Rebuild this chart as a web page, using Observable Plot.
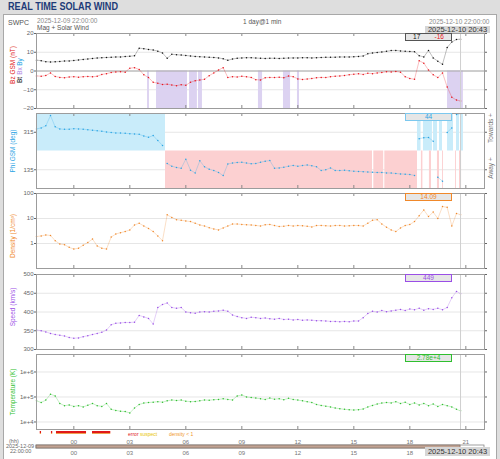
<!DOCTYPE html>
<html><head><meta charset="utf-8">
<script src="https://cdn.jsdelivr.net/npm/d3@7"></script>
<script src="https://cdn.jsdelivr.net/npm/@observablehq/plot@0.6"></script>
<style>
html,body{margin:0;padding:0;width:500px;height:459px;overflow:hidden;background:#dedede;font-family:"Liberation Sans",Arial,sans-serif;}
#root{position:relative;width:500px;height:459px;}
.abs{position:absolute;white-space:nowrap;line-height:1;}
#frame{position:absolute;left:3px;top:14px;width:492px;height:444px;border:1px solid #a8a8a8;background:#fff;}
#title{left:8px;top:1px;font-size:11.5px;font-weight:bold;color:#1d3b78;transform-origin:0 0;}
.small{font-size:6.5px;color:#6a6a6a;}
.vbox{position:absolute;left:405px;width:45px;height:6px;background:#e6e6e6;font-size:6.5px;line-height:6px;text-align:center;}
.gbox{position:absolute;left:425px;width:65px;background:#d6d6d6;color:#333;font-size:7.5px;text-align:center;}
</style>
</head><body>
<div id="root">
  <div id="frame"></div>
  <div id="title" class="abs">REAL TIME SOLAR WIND</div>
  <div class="abs small" style="left:8px;top:19px;font-size:7px;color:#555">SWPC</div>
  <div class="abs small" style="left:37px;top:18px;color:#8a8a8a">2025-12-09 22:00:00</div>
  <div class="abs small" style="left:37px;top:25px;color:#555">Mag + Solar Wind</div>
  <div class="abs small" style="left:243px;top:19px;color:#555">1 day@1 min</div>
  <div class="abs small" style="left:429px;top:19px;color:#8a8a8a">2025-12-10 22:00:00</div>
  <div class="gbox" style="top:26px;height:7px;line-height:7px">2025-12-10 20:43</div>
</div>
<script>
// ---- data (sampled every 15 min from 2025-12-09 22:00 UTC, last value at 20:43) ----
const bt = [5.8,5.5,5.0,4.8,4.9,5.1,5.3,5.4,5.6,5.9, 6.2,6.4,6.7,6.9,7.1,7.2,7.3,7.5,7.5,7.7,
  7.9,8.1,12.2,11.9,11.5,11.2,10.6,9.6,6.8,8.9, 8.7,8.5,8.3,8.0,7.8,7.6,7.5,7.3,7.2,7.0,
  6.5,5.7,6.4,6.8,7.0,7.1,7.1,6.9,6.8,6.7, 6.8,6.8,6.7,6.8,6.9,7.0,7.0,7.1,7.1,7.0,
  7.1,7.2,7.3,7.3,7.4,7.5,7.5,7.5,7.6,7.8, 8.0,9.2,9.6,9.9,10.2,10.5,10.9,11.0,10.7,10.5,
  10.4,10.3,8.2,7.5,11.0,7.0,5.2,3.6,12.5,15.5, 16.8,17];
const bz = [-2.6,-2.8,-2.4,-1.0,-2.9,-3.4,-3.6,-3.2,-3.0,-3.3, -3.0,-2.9,-3.1,-2.8,-1.8,-1.4,-0.8,-0.5,-0.4,-0.6,
  1.5,1.8,0.8,-2.0,-3.5,-6.0,-6.5,-7.2,-7.0,-7.5, -7.8,-7.3,-7.6,-6.0,-5.2,-4.8,-4.4,-2.5,-1.0,0.5,
  1.8,-3.5,-3.0,-3.2,-2.8,-3.1,-3.4,-4.6,-4.8,-3.6, -3.4,-3.5,-3.3,-3.6,-2.7,-3.0,-4.2,-4.5,-4.3,-4.0,
  -3.6,-3.4,-3.5,-3.0,-2.8,-2.6,-2.4,-2.0,-1.7,-1.5, -1.8,-1.2,-1.4,-1.0,-0.8,-0.4,-0.5,-0.3,-0.6,-3.0,
  -4.0,-4.4,5.5,4.2,0.5,-2.0,-3.5,-1.0,-8.5,-14.0, -15.5,-16];
const phi = [331,336,346,35,341,331,329,330,332,331, 330,327,325,322,320,316,314,312,311,310,
  308,307,305,297,291,299,275,252,165,152, 146,142,186,133,120,178,149,138,131,122,
  107,163,167,170,171,167,164,165,171,176, 179,142,144,147,152,156,152,155,158,154,
  149,132,135,144,132,131,133,130,128,127, 126,124,123,122,122,120,119,117,115,114,
  112,108,284,289,290,272,99,80,314,336, 40,44];
const density = [1.9,2.0,2.2,2.1,1.3,0.95,0.9,0.7,0.6,0.65, 0.85,1.1,1.5,0.8,0.65,0.6,1.8,2.4,2.7,3.0,
  3.5,5.5,6.5,5.0,4.0,3.0,2.0,1.3,14,11, 9,8.5,8.0,7.5,6.5,5.5,5.0,4.3,3.8,3.5,
  4.2,5.0,6.0,6.0,5.8,5.6,5.5,5.3,5.0,5.6, 5.8,5.2,4.8,4.9,5.3,5.0,5.2,5.1,4.9,4.6,
  5.2,5.3,5.1,5.0,5.2,5.3,5.0,5.1,5.3,5.2, 5.0,6.5,8.5,9.0,6.0,4.5,3.5,3.0,4.2,5.2,
  5.8,7.5,13,22,12,18,10,30,28,5.0, 16,14.09];
const speed = [352,350,347,343,340,338,336,332,330,331, 334,337,340,343,346,352,366,370,371,372,
  372,373,391,387,383,368,412,420,424,412, 410,412,400,398,397,400,401,400,402,403,
  405,402,392,388,385,383,386,385,383,384, 382,381,383,380,381,379,380,378,379,378,
  377,377,376,375,375,374,375,374,376,376, 385,396,402,400,404,401,403,405,407,404,
  408,406,410,405,409,407,410,406,412,438, 455,449];
const temperature = [70000,60000,75000,130000,110000,55000,45000,48000,42000,45000,
  40000,47000,55000,45000,42000,55000,32000,29000,27000,26000,
  23000,36000,50000,57000,60000,62000,65000,62000,70000,76000,
  72000,75000,68000,65000,66000,70000,76000,74000,78000,80000,
  85000,80000,76000,110000,120000,100000,95000,90000,85000,80000,
  90000,82000,85000,78000,88000,80000,75000,70000,65000,60000,
  50000,46000,43000,40000,36000,34000,32000,31000,30000,31000,
  33000,40000,46000,52000,57000,60000,58000,65000,55000,62000,
  50000,58000,48000,55000,45000,52000,42000,50000,45000,40000,
  32000,27800];
// shaded intervals (hours after 22:00)
const bzShadeStartH = [5.95, 6.43, 8.2, 8.68, 11.89, 13.23, 13.98, 22.02];
const bzShadeEndH   = [6.05, 8.09, 8.62, 8.89, 12.11, 13.61, 14.09, 22.87];
const towardStartH = [0, 20.41, 20.73, 21.27, 21.59, 22.02, 22.5, 22.77];
const towardEndH   = [6.91, 20.6, 21.21, 21.48, 21.75, 22.34, 22.66, 22.87];
const awayStartH = [6.91, 18.07, 18.66, 20.62, 21.05, 21.48, 21.75, 22.45, 22.66];
const awayEndH   = [18.0, 18.6, 20.41, 20.7, 21.16, 21.59, 21.8, 22.5, 22.77];
const flagStartH = [0.2, 0.8, 1.07, 3.0];
const flagEndH   = [0.27, 0.87, 2.68, 3.98];
const flagLegend = ["error", "suspect", "density < 1"];
const flagLegendColors = ["#e01818", "#e8c400", "#f0962c"];
const btDomain = [-20, 20], btTicks = [-20, -10, 0, 10, 20];
const phiDomain = [45, 405], phiTicks = [135, 315];
const densDomain = [0.1, 100], densTicks = [1, 10, 100];
const speedDomain = [300, 500], speedTicks = [300, 350, 400, 450, 500];
const tempDomain = [5e3, 5e6], tempTicks = [1e4, 1e5, 1e6];

// ---- setup ----
const root = document.getElementById("root");
const FONT = "Liberation Sans, Arial, sans-serif";
const start = new Date(Date.UTC(2025, 11, 9, 22, 0));
const end = new Date(Date.UTC(2025, 11, 10, 22, 0));
const now = new Date(Date.UTC(2025, 11, 10, 20, 43));
const n = bt.length;
const times = d3.range(n).map(i => i === n - 1 ? now : new Date(+start + i * 15 * 60000));
const hd = h => new Date(+start + h * 3600000);
const hourTicks = d3.utcHour.every(3).range(start, end);
const rows = vals => vals.map((v, i) => ({t: times[i], v}));
const intervals = (a, b) => a.map((s, i) => ({a: hd(s), b: hd(b[i])}));
const ident = d => d;

const t = document.getElementById("title");
t.style.transform = `scaleX(${110 / t.getBoundingClientRect().width})`;

function place(svg, top) {
  svg.style.position = "absolute"; svg.style.left = "0px"; svg.style.top = top + "px";
  root.appendChild(svg);
}
function lab(text, fill, dx, dy, anchor = "left") {
  return Plot.text([text], {frameAnchor: anchor, dx, dy, rotate: -90, fill, fontSize: 6.5,
    textAnchor: "middle", lineAnchor: "middle", fontFamily: FONT});
}
function series(data, color) {
  return [Plot.line(data, {x: "t", y: "v", stroke: color, strokeWidth: 0.6, strokeOpacity: 0.45, z: data[0].seg !== undefined ? "seg" : null}),
          Plot.dot(data, {x: "t", y: "v", r: 0.75, fill: color, stroke: "none"})];
}
function panel({top, h, y, ticks, rticks, fmt, marks}) {
  const mt = 6, mb = 6;
  const svg = Plot.plot({
    width: 500, height: h + mt + mb,
    marginLeft: 36, marginRight: 16, marginTop: mt, marginBottom: mb,
    style: {background: "transparent", fontFamily: FONT, fontSize: "6px", color: "#666", overflow: "visible"},
    x: {type: "utc", domain: [start, end], axis: null},
    y: {...y, axis: null},
    marks: [
      Plot.frame({fill: "white", stroke: "none"}),
      Plot.gridY(ticks, {stroke: "#e6e6e6", strokeOpacity: 1}),
      ...marks,
      Plot.ruleX([now], {x: ident, stroke: "#cfcfcf", strokeWidth: 1}),
      Plot.tickX(hourTicks, {x: ident, stroke: "#888", insetBottom: h - 3}),
      Plot.tickX(hourTicks, {x: ident, stroke: "#888", insetTop: h - 3}),
      Plot.frame({stroke: "#9c9c9c"}),
      Plot.axisY(ticks, {anchor: "left", tickSize: 2, tickPadding: 1, tickFormat: fmt, label: null, fontSize: 6}),
      rticks ? Plot.axisY(rticks, {anchor: "right", tickSize: 2, tickFormat: () => "", label: null})
             : Plot.axisY({anchor: "right", tickSize: 2, tickFormat: () => "", label: null})
    ]
  });
  place(svg, top - mt);
}

// Panel 1: Bt / Bz
panel({top: 33, h: 75, y: {domain: btDomain}, ticks: btTicks, rticks: btTicks, fmt: d3.format("d"),
  marks: [
    Plot.rect(intervals(bzShadeStartH, bzShadeEndH), {x1: "a", x2: "b", y1: 0, y2: btDomain[0], fill: "#dcd2f1"}),
    Plot.ruleY([0], {stroke: "#a8a8a8"}),
    ...series(rows(bt), "#111"),
    ...series(rows(bz), "#e8141c"),
    lab("Bz GSM (nT)", "#e02020", -24, -6),
    lab("By", "#2aa4e4", -17, -9),
    lab("Bx", "#b38ce6", -17, 0),
    lab("Bt", "#111", -17, 9)
  ]});

// Panel 2: Phi
const phiPlot = phi.map(p => p < 45 ? p + 360 : p);
let seg = 0;
const phiRows = phiPlot.map((v, i) => { if (i > 0 && Math.abs(v - phiPlot[i - 1]) > 60) seg++; return {t: times[i], v, seg}; });
const phiMid = (phiDomain[0] + phiDomain[1]) / 2;
panel({top: 113, h: 75, y: {domain: phiDomain}, ticks: phiTicks, rticks: phiTicks, fmt: d3.format("d"),
  marks: [
    Plot.rect(intervals(towardStartH, towardEndH), {x1: "a", x2: "b", y1: phiMid, y2: phiDomain[1], fill: "#c9ecfa"}),
    Plot.rect(intervals(awayStartH, awayEndH), {x1: "a", x2: "b", y1: phiDomain[0], y2: phiMid, fill: "#fcd0d1"}),
    ...series(phiRows, "#2aa4e4"),
    lab("Phi GSM (deg)", "#2aa4e4", -24, 0),
    lab("Towards +", "#777", 6, -23, "right"),
    lab("Away +", "#777", 6, 17, "right")
  ]});

// Panel 3: Density
panel({top: 193, h: 75, y: {type: "log", domain: densDomain}, ticks: densTicks, fmt: d3.format("d"),
  marks: [...series(rows(density), "#f0882a"), lab("Density (1/cm³)", "#f0882a", -24, 5)]});

// Panel 4: Speed
panel({top: 274, h: 75, y: {domain: speedDomain}, ticks: speedTicks, rticks: speedTicks, fmt: d3.format("d"),
  marks: [...series(rows(speed), "#9a4ee6"), lab("Speed (km/s)", "#9a4ee6", -24, -5)]});

// Panel 5: Temperature
panel({top: 354, h: 75, y: {type: "log", domain: tempDomain}, ticks: tempTicks, fmt: d3.format(".0e"),
  marks: [...series(rows(temperature), "#2fbf2f"), lab("Temperature (K)", "#2fbf2f", -24, 0)]});

// Flag strip
const flags = intervals(flagStartH, flagEndH);
place(Plot.plot({
  width: 500, height: 6, marginLeft: 36, marginRight: 16, marginTop: 0, marginBottom: 0,
  style: {background: "transparent", overflow: "visible"},
  x: {type: "utc", domain: [start, end], axis: null},
  marks: [
    Plot.rect(flags, {x1: "a", x2: "b", fill: "#e01818", insetTop: 1, insetBottom: 3}),
    Plot.rect(flags, {x1: "a", x2: "b", fill: "#f0a050", insetTop: 3, insetBottom: 2})
  ]
}), 430);
const legX = [128, 140, 169];
flagLegend.forEach((s, i) => {
  const d = document.createElement("div");
  d.className = "abs"; d.style.cssText = `left:${legX[i]}px;top:432px;font-size:5px;color:${flagLegendColors[i]}`;
  d.textContent = s; root.appendChild(d);
});

// Bottom time axis (lower row hidden under the "now" box past the current time)
const fmtH = d3.utcFormat("%H");
place(Plot.plot({
  width: 500, height: 20, marginLeft: 36, marginRight: 16, marginTop: 0, marginBottom: 0,
  style: {background: "transparent", fontFamily: FONT, overflow: "visible"},
  x: {type: "utc", domain: [start, end], axis: null},
  marks: [
    Plot.rect([{a: start, b: end}], {x1: "a", x2: "b", insetTop: 7, insetBottom: 10, fill: "white", stroke: "#777", strokeWidth: 0.7}),
    Plot.rect([{a: start, b: now}], {x1: "a", x2: "b", insetTop: 7, insetBottom: 10, fill: "#c2a393", stroke: "#7a6a62", strokeWidth: 0.7}),
    Plot.text(hourTicks, {x: ident, text: fmtH, frameAnchor: "top", dy: 1, fill: "#777", fontSize: 6}),
    Plot.text(hourTicks.filter(d => d <= now), {x: ident, text: fmtH, frameAnchor: "bottom", dy: -4, fill: "#777", fontSize: 6})
  ]
}), 438);

// Latest-value boxes and other HTML text
function addHTML(html) { root.insertAdjacentHTML("beforeend", html); }
const last = a => a[a.length - 1];
addHTML(`<div class="vbox" style="top:33px;border:1px solid #555;display:flex;justify-content:space-around"><span style="color:#111">${last(bt)}</span><span style="color:#e8141c">${last(bz)}</span></div>`);
addHTML(`<div class="vbox" style="top:113px;border:1px solid #7cc8ee;color:#2aa4e4">${last(phi)}</div>`);
addHTML(`<div class="vbox" style="top:193px;border:1px solid #f0882a;color:#f0882a">${last(density)}</div>`);
addHTML(`<div class="vbox" style="top:274px;border:1px solid #9a4ee6;color:#9a4ee6">${last(speed)}</div>`);
addHTML(`<div class="vbox" style="top:354px;border:1px solid #2fbf2f;color:#2fbf2f">${d3.format(".3~e")(last(temperature))}</div>`);
addHTML(`<div class="abs small" style="left:9px;top:439px;font-size:5.5px">(hh)</div>`);
addHTML(`<div class="abs small" style="left:6px;top:444px;font-size:5.5px">2025-12-09</div>`);
addHTML(`<div class="abs small" style="left:10px;top:449px;font-size:5.5px">22:00:00</div>`);
addHTML(`<div class="gbox" style="top:447px;height:9px;line-height:9px">2025-12-10 20:43</div>`);
</script>
</body></html>
